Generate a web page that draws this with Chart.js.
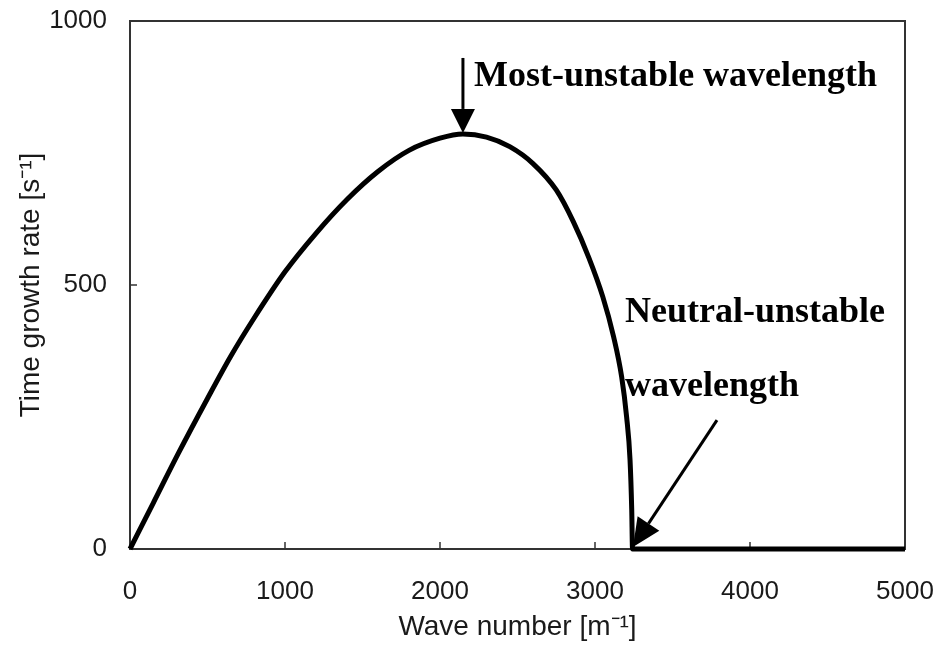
<!DOCTYPE html>
<html>
<head>
<meta charset="utf-8">
<title>Growth rate vs wave number</title>
<script src="https://cdn.jsdelivr.net/npm/chart.js@4.4.1/dist/chart.umd.min.js"></script>
<style>
  html, body { margin: 0; padding: 0; background: #fff; }
</style>
</head>
<body>
<canvas id="growthChart" width="939" height="648"></canvas>
<script>
// values
const waveNumber = [0, 150, 310, 500, 650, 800, 1000, 1200, 1400, 1600, 1800, 2000, 2148, 2300, 2450, 2600, 2750, 2860, 2960, 3050, 3120, 3172, 3204, 3226, 3237, 3242, 3500, 4000, 4500, 5000];
const growthRate = [0, 87, 180, 285, 365, 437, 525, 598, 662, 715, 755, 778, 786, 780, 762, 730, 680, 620, 552, 478, 402, 326, 250, 169, 74, 0, 0, 0, 0, 0];

const xTickValues = [0, 1000, 2000, 3000, 4000, 5000];
const yTickValues = [0, 500, 1000];

const xTitle = 'Wave number [m\u207B\u00B9]';
const yTitle = 'Time growth rate [s\u207B\u00B9]';

// annotation anchors, in data units
const mostUnstable = { label: 'Most-unstable wavelength', k: 2148, top: 930, tip: 788, textK: 2220, textY: 877 };
const neutral = { lines: ['Neutral-unstable', 'wavelength'], tailK: 3787, tailY: 244, tipK: 3245, tipY: 4, textK: 3194, textY: [430, 290] };

const tickFont = { family: '"Liberation Sans", Arial, sans-serif', size: 26 };
const titleFont = { family: '"Liberation Sans", Arial, sans-serif', size: 28 };
const textColor = '#1a1a1a';

function arrow(ctx, x0, y0, x1, y1, headLen, headHalf) {
	const ang = Math.atan2(y1 - y0, x1 - x0);
	const bx = x1 - headLen * Math.cos(ang);
	const by = y1 - headLen * Math.sin(ang);
	ctx.beginPath();
	ctx.moveTo(x0, y0);
	ctx.lineTo(bx, by);
	ctx.stroke();
	ctx.beginPath();
	ctx.moveTo(x1, y1);
	ctx.lineTo(bx + headHalf * Math.sin(ang), by - headHalf * Math.cos(ang));
	ctx.lineTo(bx - headHalf * Math.sin(ang), by + headHalf * Math.cos(ang));
	ctx.closePath();
	ctx.fill();
}

// box round the plot plus short inward tick marks
const frame = {
	id: 'frame',
	beforeDatasetsDraw(chart) {
		const { ctx, chartArea: a, scales } = chart;
		ctx.save();
		ctx.strokeStyle = '#333';
		ctx.lineWidth = 2;
		ctx.strokeRect(a.left, a.top, a.right - a.left, a.bottom - a.top);
		ctx.lineWidth = 1.5;
		ctx.beginPath();
		xTickValues.forEach(v => {
			const px = scales.x.getPixelForValue(v);
			ctx.moveTo(px, a.bottom);
			ctx.lineTo(px, a.bottom - 7);
		});
		yTickValues.forEach(v => {
			const py = scales.y.getPixelForValue(v);
			ctx.moveTo(a.left, py);
			ctx.lineTo(a.left + 7, py);
		});
		ctx.stroke();
		ctx.restore();
	}
};

const notes = {
	id: 'notes',
	afterDatasetsDraw(chart) {
		const { ctx, scales: { x, y } } = chart;
		ctx.save();
		ctx.fillStyle = '#000';
		ctx.strokeStyle = '#000';
		ctx.lineWidth = 3;

		arrow(ctx, x.getPixelForValue(mostUnstable.k), y.getPixelForValue(mostUnstable.top),
			x.getPixelForValue(mostUnstable.k), y.getPixelForValue(mostUnstable.tip), 24, 12);
		arrow(ctx, x.getPixelForValue(neutral.tailK), y.getPixelForValue(neutral.tailY),
			x.getPixelForValue(neutral.tipK), y.getPixelForValue(neutral.tipY), 28, 13);

		ctx.font = 'bold 36px "Liberation Serif", "Times New Roman", serif';
		ctx.textBaseline = 'alphabetic';
		ctx.textAlign = 'left';
		ctx.fillText(mostUnstable.label, x.getPixelForValue(mostUnstable.textK), y.getPixelForValue(mostUnstable.textY));
		neutral.lines.forEach((t, i) => {
			ctx.fillText(t, x.getPixelForValue(neutral.textK), y.getPixelForValue(neutral.textY[i]));
		});
		ctx.restore();
	}
};

new Chart(document.getElementById('growthChart'), {
	type: 'scatter',
	data: {
		datasets: [{
			data: waveNumber.map((k, i) => ({ x: k, y: growthRate[i] })),
			showLine: true,
			borderColor: '#000',
			borderWidth: 5,
			pointRadius: 0,
			cubicInterpolationMode: 'monotone',
			clip: false
		}]
	},
	options: {
		responsive: false,
		animation: false,
		layout: { padding: { top: 21, right: 34, left: 0, bottom: 0 } },
		plugins: { legend: { display: false }, tooltip: { enabled: false } },
		scales: {
			x: {
				type: 'linear',
				min: 0,
				max: 5000,
				afterFit: s => { s.height = 99; s.paddingLeft = 0; s.paddingRight = 0; },
				afterBuildTicks: s => { s.ticks = xTickValues.map(v => ({ value: v })); },
				grid: { display: false, drawTicks: false },
				border: { display: false },
				ticks: { padding: 27, color: textColor, font: tickFont, maxRotation: 0, callback: v => String(v) },
				title: { display: true, text: xTitle, color: textColor, font: titleFont, padding: { top: 0, bottom: 4 } }
			},
			y: {
				type: 'linear',
				min: 0,
				max: 1000,
				afterFit: s => { s.width = 130; s.paddingTop = 0; s.paddingBottom = 0; },
				afterBuildTicks: s => { s.ticks = yTickValues.map(v => ({ value: v })); },
				grid: { display: false, drawTicks: false },
				border: { display: false },
				ticks: { padding: 23, color: textColor, font: tickFont, callback: v => String(v) },
				title: { display: true, text: yTitle, color: textColor, font: titleFont, padding: { top: 14, bottom: 0 } }
			}
		}
	},
	plugins: [frame, notes]
});
</script>
</body>
</html>
